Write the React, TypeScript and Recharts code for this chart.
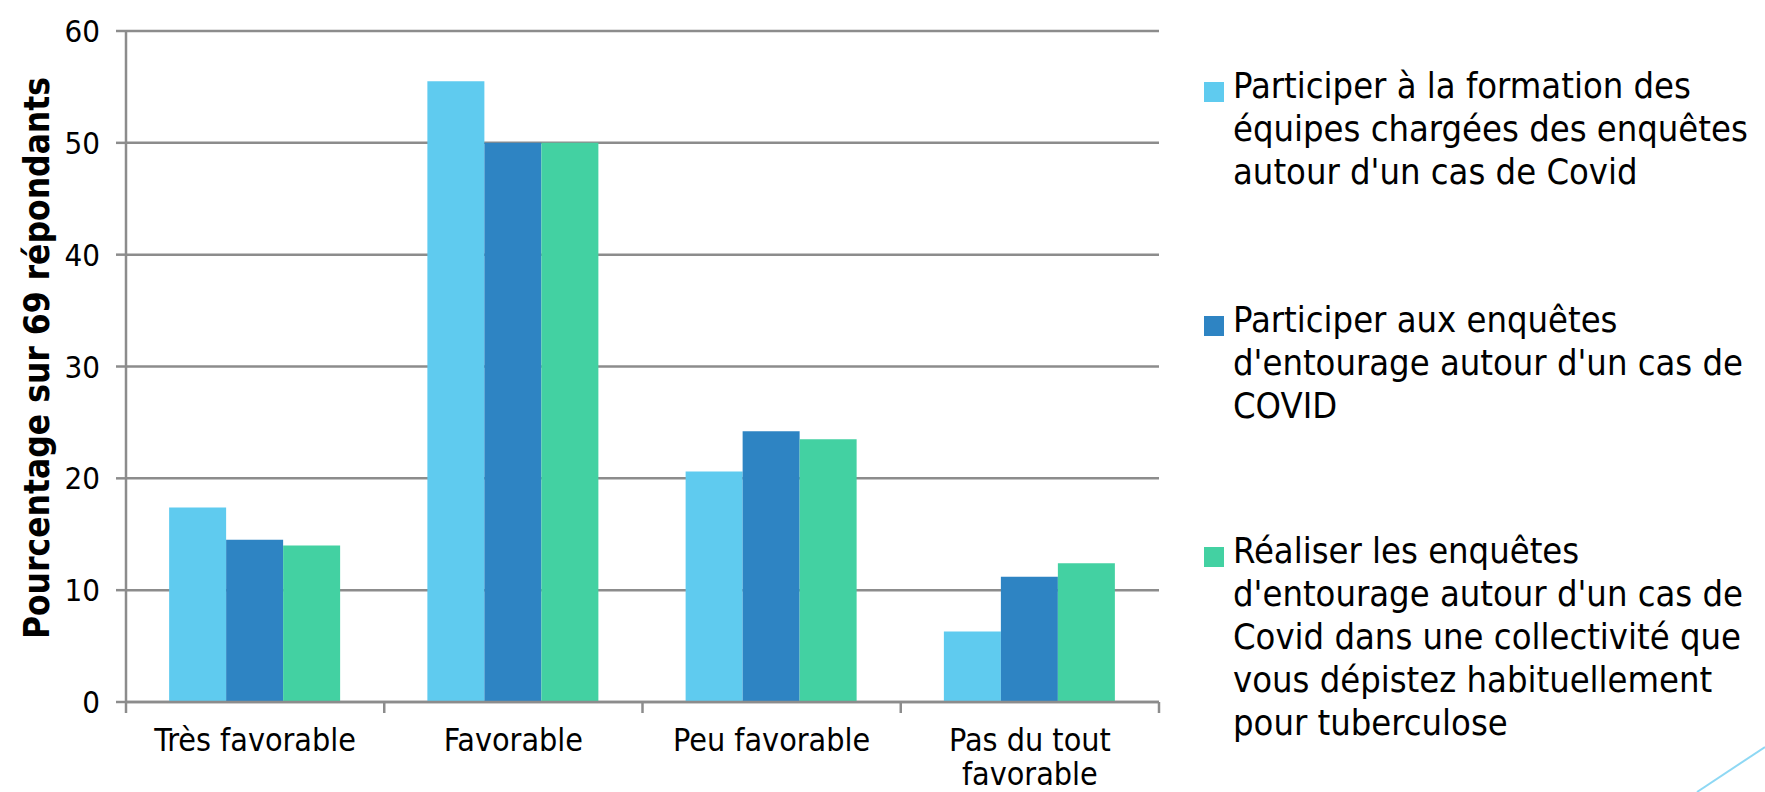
import React from 'react';
import { BarChart, Bar, XAxis, YAxis, CartesianGrid, Legend } from 'recharts';

// catégories (axe X) et pourcentages
const categories = ['Très favorable', 'Favorable', 'Peu favorable', 'Pas du tout\nfavorable'];
const formationEquipes = [17.4, 55.5, 20.6, 6.3];
const enquetesEntourage = [14.5, 50.0, 24.2, 11.2];
const enquetesCollectivite = [14.0, 50.0, 23.5, 12.4];
const yTicks = [0, 10, 20, 30, 40, 50, 60];

const seriesNames = [
  "Participer à la formation des\néquipes chargées des enquêtes\nautour d'un cas de Covid",
  "Participer aux enquêtes\nd'entourage autour d'un cas de\nCOVID",
  "Réaliser les enquêtes\nd'entourage autour d'un cas de\nCovid dans une collectivité que\nvous dépistez habituellement\npour tuberculose",
];
const seriesKeys = ['formation', 'entourage', 'collectivite'];
const colors = ['#5FCBEF', '#2E84C3', '#43D1A2'];

const data = categories.map((c, i) => ({
  name: c,
  formation: formationEquipes[i],
  entourage: enquetesEntourage[i],
  collectivite: enquetesCollectivite[i],
}));

const FONT = "'DejaVu Sans Condensed', 'DejaVu Sans', sans-serif";
const GRID = '#8C8C8C';

function CategoryTick(props: any) {
  const { x, y, payload, index, visibleTicksCount, width } = props;
  const half = payload.offset > 0 ? payload.offset : width / (2 * visibleTicksCount);
  const lines = String(payload.value).split('\n');
  return (
    <g>
      <line x1={x - half} y1={y} x2={x - half} y2={y + 11} stroke={GRID} strokeWidth={2.5} />
      {index === visibleTicksCount - 1 && (
        <line x1={x + half} y1={y} x2={x + half} y2={y + 11} stroke={GRID} strokeWidth={2.5} />
      )}
      <text x={x} y={y + 49} textAnchor="middle" fontSize={32} fontFamily={FONT} fill="#000">
        {lines.map((l, i) => (
          <tspan key={i} x={x} dy={i === 0 ? 0 : 34}>
            {l}
          </tspan>
        ))}
      </text>
    </g>
  );
}

function YLabel(props: any) {
  const { viewBox } = props;
  const x = viewBox.x + 37;
  const y = 358;
  return (
    <text
      x={x}
      y={y}
      transform={`rotate(-90, ${x}, ${y})`}
      textAnchor="middle"
      dominantBaseline="central"
      fontSize={35}
      fontWeight="bold"
      fontFamily={FONT}
      fill="#000"
    >
      Pourcentage sur 69 répondants
    </text>
  );
}

const legendTops = [64, 298, 529];

function LegendContent() {
  return (
    <div style={{ position: 'relative', width: 561, height: 700 }}>
      {seriesNames.map((name, i) => (
        <div key={i} style={{ position: 'absolute', left: 0, top: legendTops[i], display: 'flex' }}>
          <div style={{ width: 20, height: 20, background: colors[i], marginTop: 18, marginRight: 9, flexShrink: 0 }} />
          <div
            style={{
              whiteSpace: 'pre',
              fontFamily: FONT,
              fontSize: 36,
              lineHeight: '43px',
              color: '#000',
            }}
          >
            {name}
          </div>
        </div>
      ))}
    </div>
  );
}

export default function App() {
  return (
    <div style={{ position: 'absolute', left: 0, top: 0, width: 1765, height: 792, background: '#fff', overflow: 'hidden' }}>
      <BarChart
        width={1765}
        height={792}
        data={data}
        margin={{ top: 31, right: 45, bottom: 0, left: 0 }}
        barCategoryGap="16.7%"
        barGap={0}
      >
        <CartesianGrid vertical={false} stroke={GRID} strokeWidth={2.5} />
        <XAxis
          dataKey="name"
          height={90}
          tickLine={false}
          tickSize={0}
          tickMargin={0}
          axisLine={{ stroke: GRID, strokeWidth: 2.5 }}
          tick={<CategoryTick />}
          interval={0}
        />
        <YAxis
          width={126}
          domain={[0, 60]}
          ticks={yTicks}
          interval={0}
          tickSize={10}
          tickMargin={16}
          tickLine={{ stroke: GRID, strokeWidth: 2.5 }}
          axisLine={{ stroke: GRID, strokeWidth: 2.5 }}
          tick={{ fontSize: 31, fill: '#000', fontFamily: FONT }}
          label={<YLabel />}
        />
        <Legend
          layout="vertical"
          align="right"
          verticalAlign="top"
          content={<LegendContent />}
          wrapperStyle={{ position: 'absolute', left: 1204, top: 0, width: 561, height: 700 }}
        />
        {seriesKeys.map((k, i) => (
          <Bar key={k} dataKey={k} name={seriesNames[i]} fill={colors[i]} isAnimationActive={false} />
        ))}
      </BarChart>
      <svg width={1765} height={792} style={{ position: 'absolute', left: 0, top: 0, pointerEvents: 'none' }}>
        <line x1={1765} y1={747} x2={1697} y2={792} stroke="#8ED8F4" strokeWidth={2} />
      </svg>
    </div>
  );
}
